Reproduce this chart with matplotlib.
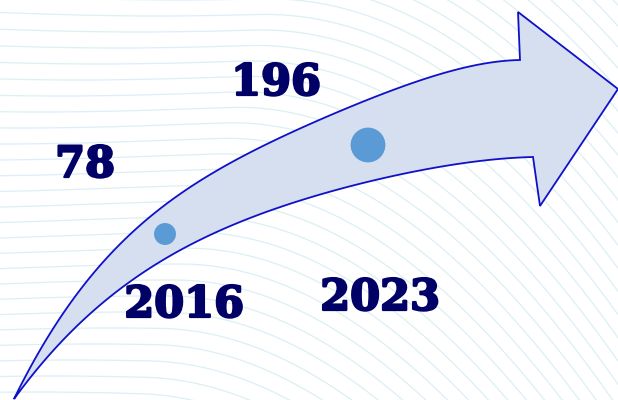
import numpy as np
import matplotlib
matplotlib.use("Agg")
import matplotlib.pyplot as plt
import matplotlib.patheffects as pe
from matplotlib.patches import PathPatch
from matplotlib.path import Path

# data
years = ["2016", "2023"]
values = [78, 196]

# layout (pixel space of a 618x400 canvas)
dot_x = [165, 368]
dot_y = [234, 145]
val_xy = [(85, 165), (276, 83)]
year_xy = [(184, 305), (380, 298)]

navy = "#000066"
fill = "#D5DFEF"
edge = "#1010C8"
dotc = "#5B9BD5"

fig = plt.figure(figsize=(6.18, 4.0), dpi=100)
ax = fig.add_axes([0, 0, 1, 1])
ax.set_xlim(0, 618)
ax.set_ylim(400, 0)
ax.axis("off")

# faint background curves
xs = np.linspace(0, 618, 300)
for c in np.arange(-500, 420, 16):
    ys = c + 4 * np.sin(xs / 110.0 + c / 90.0) + 0.0018 * np.clip(xs - 260 + c * 0.3, 0, None) ** 2
    ax.plot(xs, ys, color="#DCEFF4", lw=0.9, zorder=0)

upper = [(14, 399), (50, 327), (100, 263), (133, 237), (167, 207), (200, 180),
         (250, 150), (300, 127), (367, 100), (433, 78), (520, 60)]
lower = [(14, 399), (50, 357), (110, 298), (133, 277), (167, 257), (200, 240),
         (250, 217), (300, 203), (367, 182), (433, 167), (533, 157)]
head = [(518, 12), (618, 89), (540, 206), (533, 157)]

def edge_curve(pts, x0, x1):
    p = np.array(pts, float)
    w = np.ones(len(p))
    w[0] = w[-1] = 10
    coef = np.polyfit(p[:, 0], p[:, 1], 4, w=w)
    xx = np.linspace(x0, x1, 200)
    return list(zip(xx, np.polyval(coef, xx)))

up = edge_curve(upper, 14, 520)
lo = edge_curve(lower, 14, 533)[::-1]
verts = up + head + lo[1:]
verts.append(verts[0])
codes = [Path.MOVETO] + [Path.LINETO] * (len(verts) - 2) + [Path.CLOSEPOLY]
ax.add_patch(PathPatch(Path(verts, codes), facecolor=fill, edgecolor=edge,
                       lw=1.3, zorder=2, joinstyle="miter"))

# bubbles sized by value
ax.scatter(dot_x, dot_y, s=[v * 3.2 for v in values], color=dotc, zorder=3,
           edgecolors="none")

bold = [pe.withStroke(linewidth=1.6, foreground=navy)]
for (x, y), v in zip(val_xy, values):
    ax.text(x, y, str(v), ha="center", va="center", fontsize=31,
            fontweight="bold", family="DejaVu Serif", color=navy, zorder=4,
            path_effects=bold)
for (x, y), yr in zip(year_xy, years):
    ax.text(x, y, yr, ha="center", va="center", fontsize=31,
            fontweight="bold", family="DejaVu Serif", color=navy, zorder=4,
            path_effects=bold)

fig.savefig("out.png", dpi=100)
